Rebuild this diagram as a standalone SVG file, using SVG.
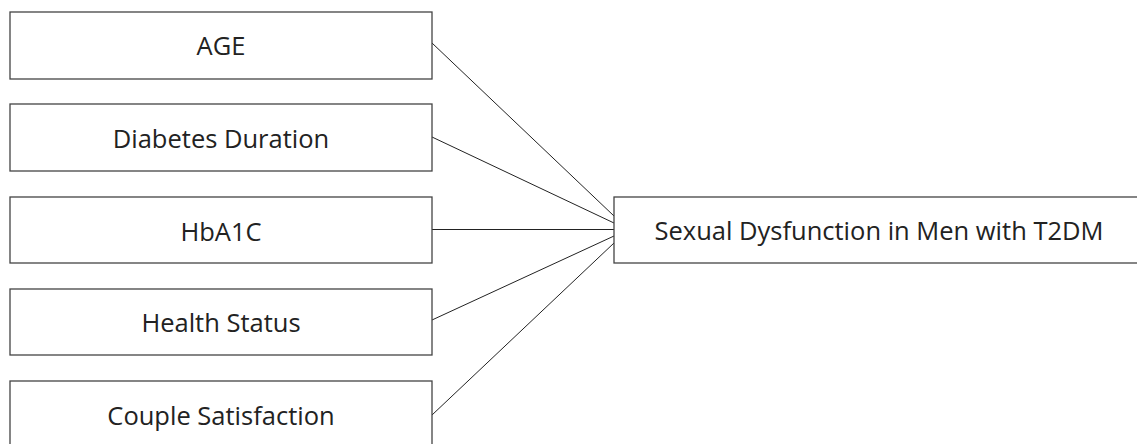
<svg xmlns="http://www.w3.org/2000/svg" width="1137" height="444" viewBox="0 0 1137 444">
<style>
.box{fill:#fff;stroke:#444;stroke-width:1.3}
.lbl{font-family:"Open Sans","Noto Sans",sans-serif;font-size:25.5px;fill:#222;text-anchor:middle}
.conn{stroke:#222;stroke-width:1;fill:none}
</style>
<rect width="1137" height="444" fill="#fff"/>
<g id="connectors">
<line class="conn" x1="432" y1="43" x2="614" y2="216"/>
<line class="conn" x1="432" y1="137" x2="614" y2="223"/>
<line class="conn" x1="432" y1="229.5" x2="614" y2="229.5"/>
<line class="conn" x1="432" y1="320" x2="614" y2="236"/>
<line class="conn" x1="432" y1="415" x2="614" y2="243"/>
</g>
<g id="age"><rect class="box" x="10" y="12" width="422" height="67"/><text class="lbl" x="221" y="55">AGE</text></g>
<g id="diabetes"><rect class="box" x="10" y="104" width="422" height="67"/><text class="lbl" x="221" y="148">Diabetes Duration</text></g>
<g id="hba1c"><rect class="box" x="10" y="197" width="422" height="66"/><text class="lbl" x="221" y="240.5">HbA1C</text></g>
<g id="health"><rect class="box" x="10" y="289" width="422" height="66"/><text class="lbl" x="221" y="332">Health Status</text></g>
<g id="couple"><rect class="box" x="10" y="381" width="422" height="70"/><text class="lbl" x="221" y="425">Couple Satisfaction</text></g>
<g id="outcome"><rect class="box" x="614" y="197" width="530" height="66"/><text class="lbl" x="879" y="240">Sexual Dysfunction in Men with T2DM</text></g>
</svg>
